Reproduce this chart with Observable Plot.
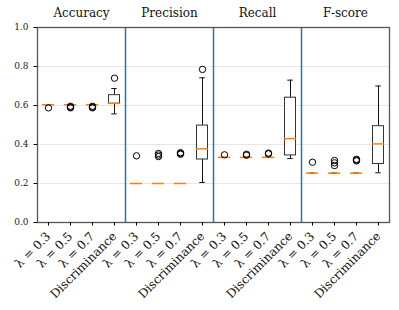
<!DOCTYPE html>
<html>
<head>
<meta charset="utf-8">
<script src="https://cdn.jsdelivr.net/npm/d3@7"></script>
<script src="https://cdn.jsdelivr.net/npm/@observablehq/plot@0.6"></script>
<style>
  html, body { margin: 0; padding: 0; background: #fff; }
</style>
</head>
<body>
<div id="chart"></div>
<script>
// ---- data ----
const metrics = ["Accuracy", "Precision", "Recall", "F-score"];
const methods = ["λ = 0.3", "λ = 0.5", "λ = 0.7", "Discriminance"];
// per metric, per method (16 entries, metric-major)
const medians  = [0.604, 0.604, 0.604, 0.611,  0.200, 0.200, 0.200, 0.378,  0.334, 0.334, 0.334, 0.430,  0.253, 0.253, 0.253, 0.403];
const q1s      = [0.604, 0.604, 0.604, 0.609,  0.200, 0.200, 0.200, 0.323,  0.334, 0.334, 0.334, 0.344,  0.253, 0.253, 0.253, 0.300];
const q3s      = [0.604, 0.604, 0.604, 0.653,  0.200, 0.200, 0.200, 0.497,  0.334, 0.334, 0.334, 0.640,  0.253, 0.253, 0.253, 0.494];
const whiskLo  = [0.604, 0.604, 0.604, 0.557,  0.200, 0.200, 0.200, 0.205,  0.334, 0.334, 0.334, 0.328,  0.253, 0.253, 0.253, 0.255];
const whiskHi  = [0.604, 0.604, 0.604, 0.687,  0.200, 0.200, 0.200, 0.742,  0.334, 0.334, 0.334, 0.730,  0.253, 0.253, 0.253, 0.700];
const outliers = [
  [0.588], [0.588, 0.592, 0.596], [0.588, 0.592, 0.596], [0.740],
  [0.342], [0.338, 0.346, 0.354], [0.350, 0.354, 0.358], [0.785],
  [0.347], [0.345, 0.350], [0.352, 0.356], [],
  [0.309], [0.292, 0.306, 0.318], [0.316, 0.320, 0.324], []
];
const yTicks = [0, 0.2, 0.4, 0.6, 0.8, 1.0];

// ---- tables built from the arrays ----
const keys = metrics.flatMap(m => methods.map(s => m + "|" + s));
const rows = keys.map((k, i) => ({
  key: k, med: medians[i], q1: q1s[i], q3: q3s[i], lo: whiskLo[i], hi: whiskHi[i]
}));
const outRows = keys.flatMap((k, i) => outliers[i].map(v => ({key: k, v})));
const separators = metrics.slice(0, -1).map(m => m + "|Discriminance");

const W = 399, H = 310, ML = 37, MR = 10, MT = 27, MB = 88;
const step = (W - ML - MR) / keys.length;
const serif = "DejaVu Serif";

const chart = Plot.plot({
  width: W, height: H,
  marginLeft: ML, marginRight: MR, marginTop: MT, marginBottom: MB,
  style: {fontFamily: serif, background: "#fff", overflow: "visible"},
  x: {type: "band", domain: keys, padding: 0},
  y: {domain: [0, 1]},
  marks: [
    Plot.gridY(yTicks.slice(1, -1), {stroke: "#e6e6e6", strokeOpacity: 1}),
    // whiskers
    Plot.ruleX(rows, {x: "key", y1: "lo", y2: "q1", stroke: "#111"}),
    Plot.ruleX(rows, {x: "key", y1: "q3", y2: "hi", stroke: "#111"}),
    Plot.tickY(rows, {x: "key", y: "lo", stroke: "#111", inset: step * 0.375}),
    Plot.tickY(rows, {x: "key", y: "hi", stroke: "#111", inset: step * 0.375}),
    // boxes
    Plot.barY(rows, {x: "key", y1: "q1", y2: "q3", fill: "white", stroke: "#333", insetLeft: step * 0.25, insetRight: step * 0.25}),
    // medians
    Plot.tickY(rows, {x: "key", y: "med", stroke: "#ff7f0e", strokeWidth: 1.5, inset: step * 0.22}),
    // outliers
    Plot.dot(outRows, {x: "key", y: "v", r: 3.2, stroke: "black", fill: "none", strokeWidth: 1}),
    // separators between panels
    Plot.ruleX(separators, {stroke: "#1f77b4", strokeWidth: 1.5, dx: step / 2}),
    Plot.frame({stroke: "#555", strokeWidth: 1.3}),
    // panel titles
    Plot.text(metrics, {x: d => d + "|λ = 0.5", y: () => 1, text: d => d, dx: step / 2, dy: -14, fontSize: 12, fill: "#111"}),
    Plot.axisY({ticks: yTicks, tickFormat: d3.format(".1f"), tickSize: 3.5, fontSize: 9, label: null, fill: "#222"}),
    Plot.axisX({tickFormat: k => k.split("|")[1], tickRotate: -45, tickSize: 3.5, fontSize: 12, label: null, fill: "#111"})
  ]
});
document.getElementById("chart").appendChild(chart);
</script>
</body>
</html>
